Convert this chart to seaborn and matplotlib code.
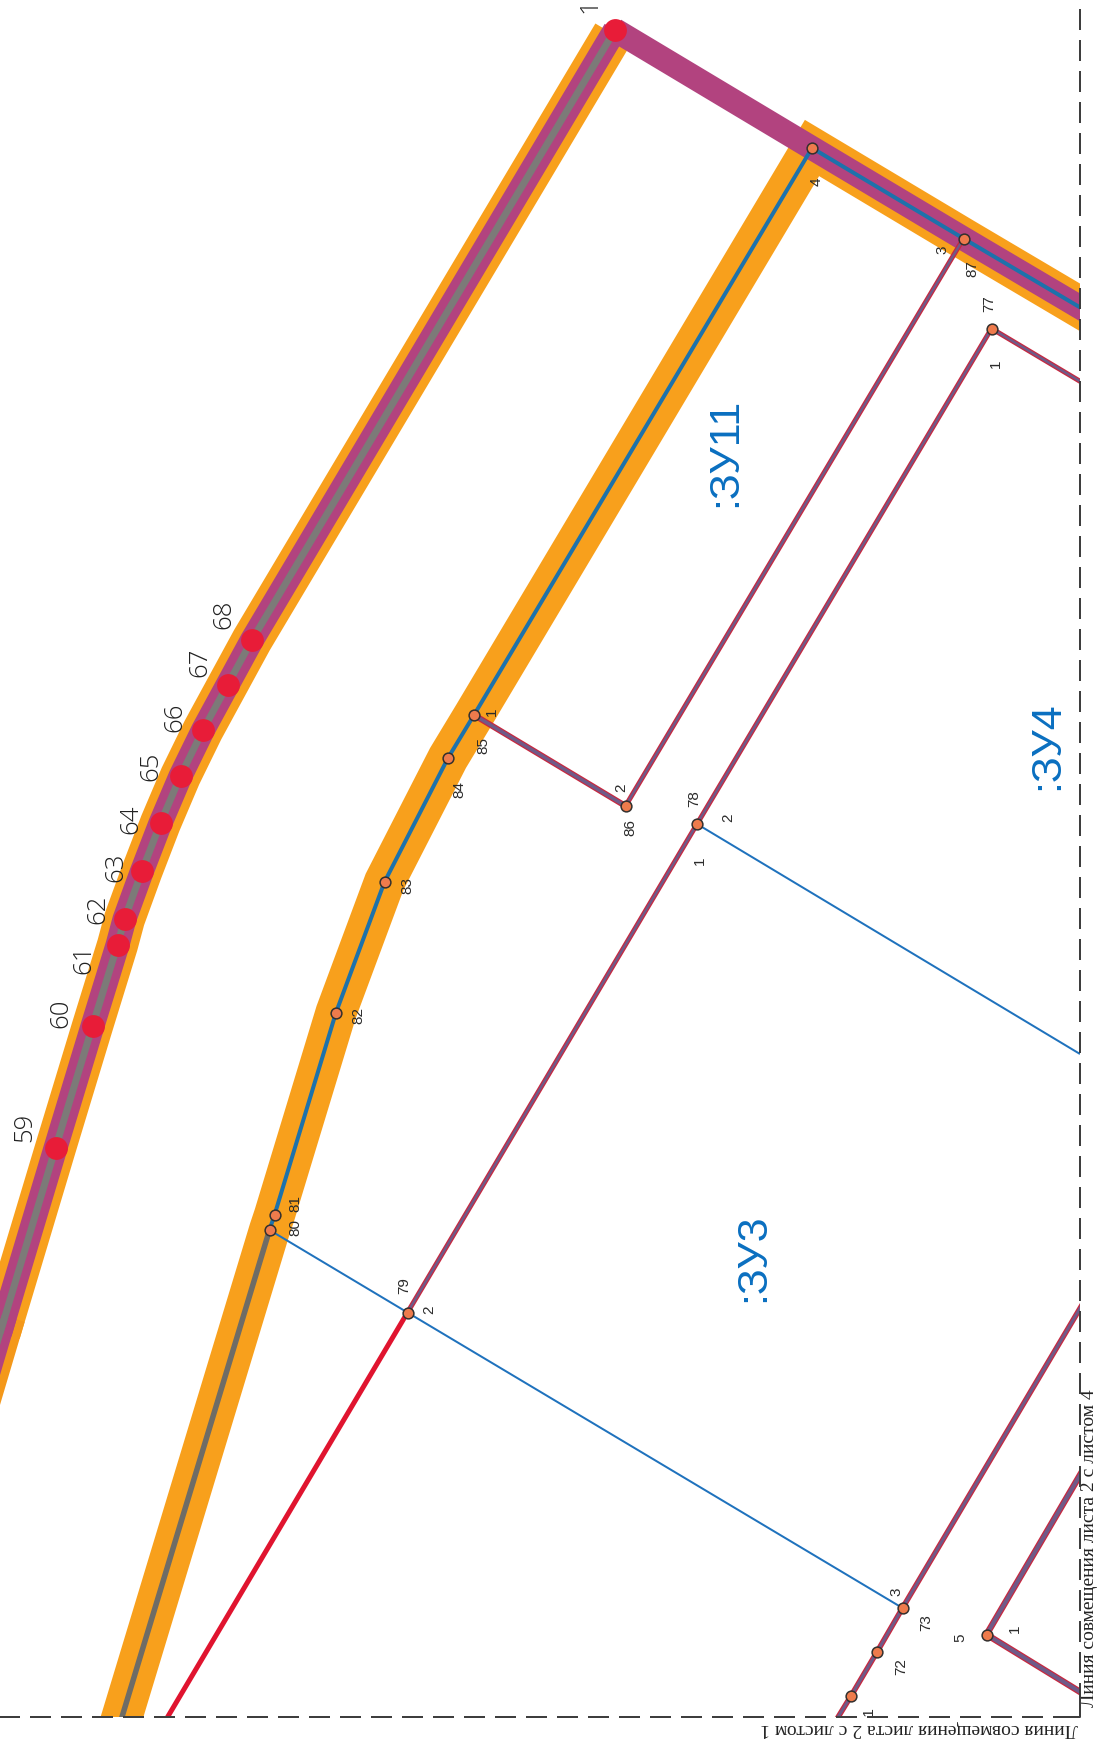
#!/usr/bin/env python

# cadastral sheet redrawn from a scan - coordinates are read off the picture in pixels
# axes stop at the sheet frame so the bands get cut off on the dashed line

import numpy as np
import seaborn as sns
import matplotlib.pyplot as plt

# outer band, point 1 down to the left edge
top_x = [615, 252, 227.5, 203, 180.5, 160.5, 142, 124.5, 117.5, 92.5, 55.5, 0]
top_y = [30, 640, 685, 730, 776, 823, 871, 919, 945, 1026, 1148, 1333]
top_band_x = [613] + top_x[1:]
top_band_y = [34] + top_y[1:]
# the band runs off the left edge here, agg drops line segments outside the canvas
tail_x = [5, -30]
tail_y = [1316, 1434]

# numbered red points on the outer band
red_x = [615, 55.5, 92.5, 117.5, 124.5, 142, 160.5, 180.5, 203, 227.5, 252]
red_y = [30, 1148, 1026, 945, 919, 871, 823, 776, 730, 685, 640]
red_names = ["1", "59", "60", "61", "62", "63", "64", "65", "66", "67", "68"]
red_name_x = [590, 24.5, 61, 84, 98, 115.5, 131, 150.6, 175, 199.6, 224]
red_name_y = [6, 1127, 1013, 959, 909, 867, 819, 766, 717, 662, 614]

# magenta link from point 1 to the right side of the sheet
link_x = [615, 812, 963.5, 1098]
link_y = [30, 148, 238.5, 318]

# inner band
inner_x = [1098, 963.5, 812, 474, 448, 384.5, 336, 274.5, 269.5, 113.5]
inner_y = [318, 238.5, 148, 715, 758, 882, 1012.5, 1215, 1230, 1745]
blue_core_x = inner_x[:-1]
blue_core_y = inner_y[:-1]
grey_core_x = inner_x[-2:]
grey_core_y = inner_y[-2:]

# boundaries, red with a purple core
edge_a_x = [1098, 991.5, 697, 407.5]
edge_a_y = [392, 328.5, 824, 1312.5]
edge_b_x = [963.5, 625.5, 474]
edge_b_y = [238.5, 806, 715]
edge_c_x = [1098, 902.5, 877, 851, 821]
edge_c_y = [1278, 1608, 1652, 1696, 1745]
edge_d_x = [1090, 986.5, 1090]
edge_d_y = [1458, 1634.5, 1698]
red_tail_x = [407.5, 151]
red_tail_y = [1312.5, 1745]

# thin blue lines
thin_a_x = [697, 1080]
thin_a_y = [824, 1054]
thin_b_x = [269.5, 407.5, 902.5]
thin_b_y = [1230, 1312.5, 1608]

# small orange points
dot_x = [812, 963.5, 991.5, 474, 448, 384.5, 336, 274.5, 269.5, 625.5, 697, 407.5, 902.5, 877, 851, 986.5]
dot_y = [148, 238.5, 328.5, 715, 758, 882, 1012.5, 1215, 1230, 806, 824, 1312.5, 1608, 1652, 1696, 1634.5]

# small labels
small_names = ["4", "3", "87", "77", "1", "1", "85", "84", "83", "82", "2", "86", "78", "2", "1",
               "81", "80", "79", "2", "3", "73", "72", "5", "1"]
small_x = [817, 942, 972, 989.5, 996, 491.5, 483, 459, 407.5, 358, 621, 630, 694.5, 728, 700,
           295, 295.5, 404, 429, 896, 926, 901, 960.5, 1015]
small_y = [182, 249.5, 269, 304, 364, 712, 745.5, 790, 885, 1015, 788, 827.5, 799, 818, 860.5,
           1204, 1228, 1285.5, 1310, 1591.5, 1622.5, 1667, 1637.5, 1629]

# parcel names
parcel_names = [":ЗУ11", ":ЗУ4", ":ЗУ3"]
parcel_x = [725, 1047, 753]
parcel_y = [452, 746, 1258]

# sheet frame
frame_right_x = [1080, 1080]
frame_right_y = [8.7, 1717]
frame_bottom_x = [-4, 1080]
frame_bottom_y = [1717, 1717]
frame_corner_x = [1060, 1080, 1080]
frame_corner_y = [1717, 1717, 1700]

ORANGE = "#f8a01c"
MAGENTA = "#b2437f"
GREY = "#7c7a78"
BLUE = "#1d72ab"
THIN_BLUE = "#1f72bd"
RED = "#e0142f"
PURPLE = "#6f5a88"
PX = 0.72  # one pixel in points at dpi 100

sns.set_theme(style="white")
plt.rcParams["font.family"] = ["Liberation Sans", "DejaVu Sans"]

fig = plt.figure(figsize=(10.98, 17.46), dpi=100)
ax = fig.add_axes([0, 29 / 1746, 1080 / 1098, 1717 / 1746])


def path(xs, ys, color, width, **kws):
    sns.lineplot(x=xs, y=ys, sort=False, estimator=None, color=color, linewidth=width * PX,
                 solid_capstyle="butt", solid_joinstyle="miter", ax=ax, **kws)


def tail(color, width):
    # same stroke as path() but filled, so it survives past the canvas edge
    p = np.array([tail_x, tail_y], dtype=float)
    d = p[:, 1] - p[:, 0]
    n = np.array([-d[1], d[0]]) / np.hypot(*d) * width / 2
    ax.fill([p[0, 0] + n[0], p[0, 1] + n[0], p[0, 1] - n[0], p[0, 0] - n[0]],
            [p[1, 0] + n[1], p[1, 1] + n[1], p[1, 1] - n[1], p[1, 0] - n[1]],
            color=color, linewidth=0, zorder=2)


path(top_band_x, top_band_y, ORANGE, 41)
tail("#f4981a", 41)
path(inner_x, inner_y, ORANGE, 41)
path(top_x, top_y, MAGENTA, 24)
tail(MAGENTA, 24)
path(link_x, link_y, MAGENTA, 24)
path(top_x, top_y, GREY, 7)
tail(GREY, 7)
path(blue_core_x, blue_core_y, BLUE, 4)
path(grey_core_x, grey_core_y, "#6e6c66", 5.5)

for xs, ys, w in [(edge_a_x, edge_a_y, 5), (edge_b_x[:2], edge_b_y[:2], 5), (edge_b_x[1:], edge_b_y[1:], 6),
                  (edge_c_x, edge_c_y, 5.5), (edge_d_x, edge_d_y, 6.5)]:
    path(xs, ys, "#c8283f", w)
    path(xs, ys, PURPLE, w - 2.5)

path(red_tail_x, red_tail_y, RED, 5)
path(thin_a_x, thin_a_y, THIN_BLUE, 2)
path(thin_b_x, thin_b_y, THIN_BLUE, 2)

sns.scatterplot(x=red_x, y=red_y, s=270, color="#e81c38", linewidth=0, zorder=5, ax=ax)
sns.scatterplot(x=dot_x, y=dot_y, s=60, color="#ee7b4c", edgecolor="#33302e", linewidth=1.1, zorder=6, ax=ax)

# dashed frame of the sheet
for xs, ys in [(frame_right_x, frame_right_y), (frame_bottom_x, frame_bottom_y)]:
    sns.lineplot(x=xs, y=ys, sort=False, estimator=None, color="#3e3e3e", linewidth=2 * PX,
                 linestyle=(0, (10.5, 5)), dash_capstyle="butt", clip_on=False, zorder=7, ax=ax)
sns.lineplot(x=frame_corner_x, y=frame_corner_y, sort=False, estimator=None, color="#3e3e3e",
             linewidth=2 * PX, clip_on=False, zorder=7, ax=ax)

ax.set_xlim(0, 1080)
ax.set_ylim(1717, 0)
ax.axis("off")

for name, x, y in zip(red_names, red_name_x, red_name_y):
    ax.text(x, y, name, rotation=90, ha="center", va="center", fontsize=18.5, color="#222222",
            family=["Open Sans", "DejaVu Sans"], fontweight="light")

for name, x, y in zip(small_names, small_x, small_y):
    ax.text(x, y, name, rotation=90, ha="center", va="center", fontsize=11, color="#2b2b2b")
# the 7 of this one runs under the frame
ax.text(869, 1716, "71", rotation=90, ha="center", va="center", fontsize=11, color="#2b2b2b", clip_on=True)

for name, x, y in zip(parcel_names, parcel_x, parcel_y):
    ax.text(x, y, name, rotation=90, ha="center", va="center", fontsize=31, color="#0a6fc0")

serif = ["Liberation Serif", "DejaVu Serif"]
ax.text(1090, 1548, "Линия совмещения листа 2 с листом 4", rotation=90, ha="center", va="center",
        fontsize=14, color="#222222", family=serif)
ax.text(919, 1728, "Линия совмещения листа 2 с листом 1", rotation=180, ha="center", va="center",
        fontsize=14, color="#222222", family=serif)

fig.savefig("out.png", dpi=100)
plt.close(fig)
